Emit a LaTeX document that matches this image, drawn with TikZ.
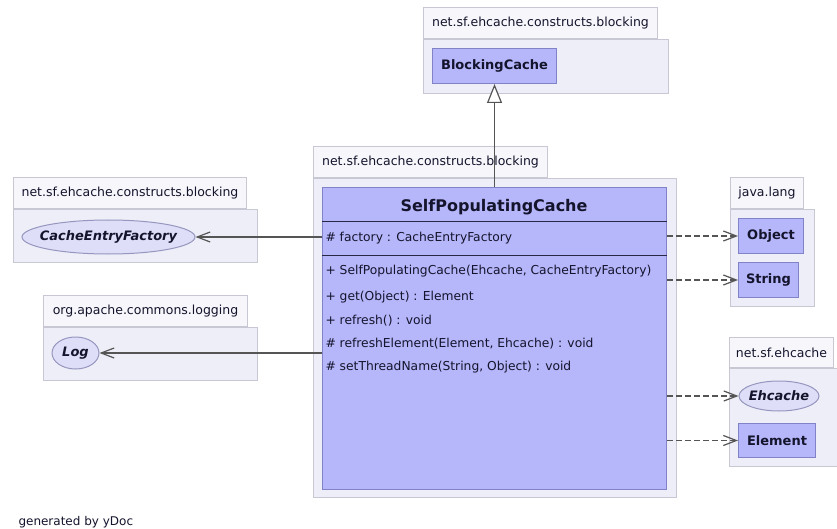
\documentclass[tikz,border=0pt]{standalone}
\usepackage{fontspec}
\setmainfont{DejaVu Sans}
\usepackage{xcolor}
\usepackage{tikz}
\usetikzlibrary{arrows.meta}
\usetikzlibrary{shapes.geometric}
\usetikzlibrary{positioning}

\definecolor{tabfill}{RGB}{246,246,251}
\definecolor{pkgfill}{RGB}{238,238,249}
\definecolor{pkgline}{RGB}{200,200,212}
\definecolor{clsfill}{RGB}{182,182,250}
\definecolor{clsline}{RGB}{130,130,200}
\definecolor{ifcfill}{RGB}{222,222,248}
\definecolor{ifcline}{RGB}{150,150,190}
\definecolor{edgecol}{RGB}{85,85,85}
\definecolor{sepcol}{RGB}{40,40,70}
\definecolor{txtcol}{RGB}{20,20,45}

\newcommand{\pkgfont}{\fontsize{12.5}{15}\selectfont}
\newcommand{\memfont}{\fontsize{12.3}{15}\selectfont}

\begin{document}
\begin{tikzpicture}[x=1pt, y=-1pt, line width=1pt, text=txtcol]
	\tikzstyle{tab}=[draw=pkgline, fill=tabfill, anchor=north west, inner sep=0pt, font=\pkgfont]
	\tikzstyle{pkg}=[draw=pkgline, fill=pkgfill, anchor=north west, inner sep=0pt]
	\tikzstyle{cls}=[draw=clsline, fill=clsfill, anchor=north west, inner sep=0pt, font=\bfseries\fontsize{13}{15}\selectfont]
	\tikzstyle{ifc}=[draw=ifcline, fill=ifcfill, ellipse, inner ysep=0pt, inner xsep=-12pt, font=\bfseries\itshape\fontsize{13}{15}\selectfont]
	\tikzstyle{mem}=[anchor=west, inner sep=0pt, font=\memfont]
	\tikzstyle{gen}=[draw=edgecol, line width=1.2pt, -{Triangle[fill=white, length=19pt, width=15pt]}]
	\tikzstyle{assoc}=[draw=edgecol, line width=1.2pt, -{Straight Barb[length=13pt, width=10pt]}]
	\tikzstyle{dep}=[assoc, dash pattern=on 6pt off 3pt]

	\useasboundingbox (0,0) rectangle (837,529);
	\clip (0,0) rectangle (837,529);
	\fill[white] (0,0) rectangle (837,529);

	% package of the super class
	\node[pkg, minimum width=245, minimum height=54] (ptop) at (423,39) {};
	\node[tab, minimum width=234, minimum height=31, above right=0pt and 0pt of ptop.north west] (ttop) {net.sf.ehcache.constructs.blocking};
	\node[cls, minimum width=124, minimum height=35] (blk) at (432,48) {BlockingCache};

	% package of the class itself
	\node[pkg, minimum width=363, minimum height=319] (pmain) at (313,178) {};
	\node[tab, minimum width=234, minimum height=31, above right=0pt and 0pt of pmain.north west] (tmain) {net.sf.ehcache.constructs.blocking};
	\node[cls, minimum width=344, minimum height=302] (spc) at (322,187) {};
	\node[font=\bfseries\fontsize{16}{18}\selectfont, inner sep=0pt] (spct) at (494,207) {SelfPopulatingCache};
	\draw[sepcol] (spc.west |- 0,222) -- (spc.east |- 0,222);
	\draw[sepcol] (spc.west |- 0,255) -- (spc.east |- 0,255);
	\node[mem] (m0) at (325,238) {\# factory : CacheEntryFactory};
	\node[mem] (m1) at (325,271) {+ SelfPopulatingCache(Ehcache, CacheEntryFactory)};
	\node[mem] (m2) at (325,297) {+ get(Object) : Element};
	\node[mem] (m3) at (325,321) {+ refresh() : void};
	\node[mem] (m4) at (325,344) {\# refreshElement(Element, Ehcache) : void};
	\node[mem] (m5) at (325,367) {\# setThreadName(String, Object) : void};

	% left packages
	\node[pkg, minimum width=244, minimum height=53] (pcef) at (13,209) {};
	\node[tab, minimum width=233, minimum height=31, above right=0pt and 0pt of pcef.north west] (tcef) {net.sf.ehcache.constructs.blocking};
	\node[ifc, minimum width=173, minimum height=34] (cef) at (108.5,237) {CacheEntryFactory};

	\node[pkg, minimum width=214, minimum height=53] (plog) at (43,327) {};
	\node[tab, minimum width=204, minimum height=31, above right=0pt and 0pt of plog.north west] (tlog) {org.apache.commons.logging};
	\node[ifc, minimum width=47, minimum height=32] (log) at (75.5,353) {Log};

	% right packages
	\node[pkg, minimum width=84, minimum height=97] (plang) at (730,209) {};
	\node[tab, minimum width=73, minimum height=31, above right=0pt and 0pt of plang.north west] (tlang) {java.lang};
	\node[cls, minimum width=65, minimum height=35] (obj) at (738,218) {Object};
	\node[cls, minimum width=60, minimum height=35] (str) at (738,262) {String};

	\node[pkg, minimum width=116, minimum height=98] (pehc) at (729,368) {};
	\node[tab, minimum width=104, minimum height=30, above right=0pt and 0pt of pehc.north west] (tehc) {net.sf.ehcache};
	\node[ifc, minimum width=80, minimum height=30] (ehc) at (779,396) {Ehcache};
	\node[cls, minimum width=77, minimum height=34] (elt) at (738,423) {Element};

	\node[anchor=west, inner sep=0pt, font=\fontsize{12}{14}\selectfont] (credit) at (18,522) {generated by yDoc};

	% connectors
	\path[gen] (blk.south |- spc.north) -- (blk.south);
	\path[assoc] (spc.west |- cef.east) -- (cef.east);
	\path[assoc] (spc.west |- log.east) -- (log.east);
	\path[dep] (spc.east |- obj.west) -- (obj.west);
	\path[dep] (spc.east |- str.west) -- (str.west);
	\path[dep] (spc.east |- ehc.west) -- (ehc.west);
	\path[dep] (spc.east |- elt.west) -- (elt.west);
\end{tikzpicture}
\end{document}
